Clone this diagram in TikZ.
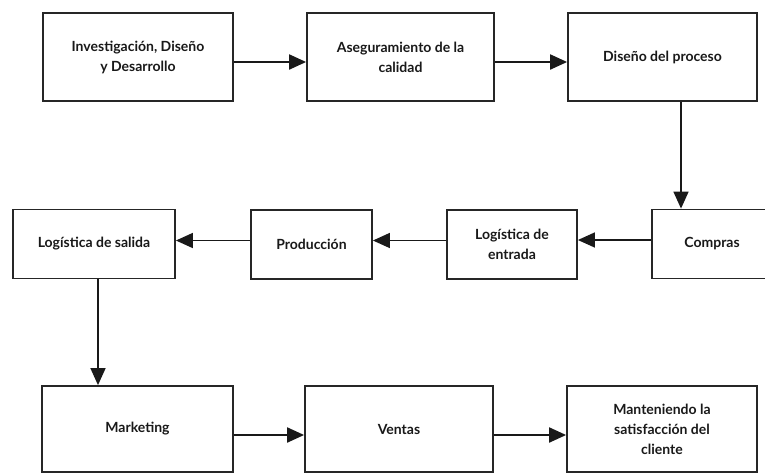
\documentclass[tikz,border=0pt]{standalone}
\usepackage{fontspec}
\setmainfont{Lato}
\usetikzlibrary{arrows.meta}
\begin{document}
\begin{tikzpicture}[x=1pt,y=-1pt,
  box/.style={draw=black!85, line width=1.8pt, fill=white, align=center,
    font=\bfseries\fontsize{14}{20}\selectfont, text=black!90,
    inner sep=0pt, minimum width=#1},
  rowA/.style={minimum height=88pt},
  rowB/.style={minimum height=69pt},
  rowC/.style={minimum height=86pt},
  arr/.style={draw=black!90, line width=2pt, -{Triangle[length=17pt,width=15pt]}},
  arrthin/.style={draw=black!90, line width=1.5pt, -{Triangle[length=17pt,width=15pt]}}]
\useasboundingbox (0,0) rectangle (765,474);
\clip (0,0) rectangle (765,474);
\fill[white] (0,0) rectangle (765,474);
% row 1
\node[box=190pt, rowA] (inv) at (138,57) {Investigación, Diseño\\y Desarrollo};
\node[box=187pt, rowA] (ase) at (400.5,57) {Aseguramiento de la\\calidad};
\node[box=189pt, rowA] (dis) at (662.5,57) {Diseño del proceso};
% row 2
\node[box=162pt, rowB] (sal) at (94,244) {Logística de salida};
\node[box=121pt, rowB] (pro) at (311.5,244.5) {Producción};
\node[box=130pt, rowB] (ent) at (512,244.5) {Logística de\\entrada};
\node[box=120pt, rowB] (com) at (712,244) {Compras};
% row 3
\node[box=191pt, rowC] (mkt) at (137.5,429) {Marketing};
\node[box=188pt, rowC] (ven) at (399,429) {Ventas};
\node[box=190pt, rowC] (man) at (662,429) {Manteniendo la\\satisfacción del\\cliente};
% connectors
\draw[arr] ([yshift=-5pt]inv.east) -- ([yshift=-5pt]inv.east -| ase.west);
\draw[arr] ([yshift=-5pt]ase.east) -- ([yshift=-5pt]ase.east -| dis.west);
\draw[arrthin] ([xshift=18.5pt]dis.south) -- ([xshift=18.5pt]dis.south |- com.north);
\draw[arrthin] ([yshift=4pt]com.west) -- ([yshift=4pt]com.west -| ent.east);
\draw[arrthin] ([yshift=4pt]ent.west) -- ([yshift=4pt]ent.west -| pro.east);
\draw[arrthin] ([yshift=4pt]pro.west) -- ([yshift=4pt]pro.west -| sal.east);
\draw[arrthin] ([xshift=4pt]sal.south) -- ([xshift=4pt]sal.south |- mkt.north);
\draw[arr] ([yshift=-6pt]mkt.east) -- ([yshift=-6pt]mkt.east -| ven.west);
\draw[arr] ([yshift=-6pt]ven.east) -- ([yshift=-6pt]ven.east -| man.west);
\end{tikzpicture}
\end{document}
